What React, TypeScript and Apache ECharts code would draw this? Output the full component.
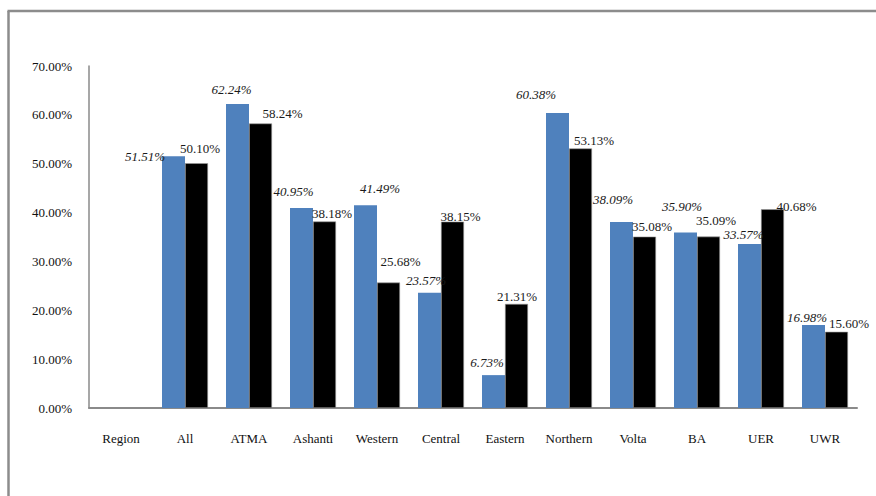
import React, { useEffect, useRef } from "react";
import * as echarts from "echarts";

// Regional shares (percent)
const regions = ["Region", "All", "ATMA", "Ashanti", "Western", "Central", "Eastern", "Northern", "Volta", "BA", "UER", "UWR"];
const seriesA: (number | null)[] = [null, 51.51, 62.24, 40.95, 41.49, 23.57, 6.73, 60.38, 38.09, 35.9, 33.57, 16.98];
const seriesB: (number | null)[] = [null, 50.1, 58.24, 38.18, 25.68, 38.15, 21.31, 53.13, 35.08, 35.09, 40.68, 15.6];
const yTicks = { min: 0, max: 70, step: 10 };

// Label nudges (px) relative to the top-centre of each bar
const shiftA: ([number, number] | null)[] = [null, [-28.5, 0], [-6, -14], [-8, -16], [14.5, -17], [-3.5, -12], [-6.5, -13], [-21.5, -19], [-8.5, -22], [-3.5, -26], [-6, -9.5], [-6.5, -8]];
const shiftB: ([number, number] | null)[] = [null, [3.5, -15], [22, -10], [7.5, -8], [12, -21], [8, -5], [0.5, -7], [13.5, -7.5], [7.5, -10.5], [7.5, -16], [24, -2.5], [12.5, -8]];

const FONT = "'Liberation Serif', 'Times New Roman', serif";
const BAR_W = 23;

function buildData(values: (number | null)[], shifts: ([number, number] | null)[], italic: boolean) {
  return values.map((v, i) => {
    if (v == null) return "-";
    const s = shifts[i] || [0, -8];
    return {
      value: v,
      label: {
        show: true,
        position: [BAR_W / 2 + s[0], s[1]],
        align: "center",
        verticalAlign: "middle",
        formatter: (p: any) => `${Number(p.value).toFixed(2)}%`,
        fontFamily: FONT,
        fontSize: 13,
        fontStyle: italic ? "italic" : "normal",
        color: "#1a1a1a",
      },
    };
  });
}

export default function App() {
  const ref = useRef<HTMLDivElement>(null);

  useEffect(() => {
    if (!ref.current) return;
    const chart = echarts.init(ref.current, null, { renderer: "svg" });
    chart.setOption({
      animation: false,
      backgroundColor: "#ffffff",
      grid: { left: 89, right: 19, top: 66, bottom: 88, containLabel: false },
      xAxis: {
        type: "category",
        data: regions,
        axisLine: { show: true, lineStyle: { color: "#8a8a8a", width: 2 } },
        axisTick: { show: false },
        axisLabel: { fontFamily: FONT, fontSize: 13, color: "#111", margin: 24 },
      },
      yAxis: {
        type: "value",
        min: yTicks.min,
        max: yTicks.max,
        interval: yTicks.step,
        splitLine: { show: false },
        axisLine: { show: true, lineStyle: { color: "#8a8a8a", width: 1.5 } },
        axisTick: { show: false },
        axisLabel: {
          fontFamily: FONT,
          fontSize: 13,
          color: "#111",
          margin: 17,
          formatter: (v: number) => `${v.toFixed(2)}%`,
        },
      },
      series: [
        {
          type: "bar",
          barWidth: BAR_W,
          barGap: "0%",
          itemStyle: { color: "#4f81bd" },
          data: buildData(seriesA, shiftA, true),
        },
        {
          type: "bar",
          barWidth: BAR_W,
          barGap: "0%",
          itemStyle: { color: "#000000", borderColor: "#9a9a9a", borderWidth: 0.6 },
          data: buildData(seriesB, shiftB, false),
        },
      ],
      graphic: [
        { type: "line", shape: { x1: 8.5, y1: 11, x2: 8.5, y2: 496 }, style: { stroke: "#8c8c8c", lineWidth: 2.5 } },
        { type: "line", shape: { x1: 7.5, y1: 11, x2: 876, y2: 11 }, style: { stroke: "#8c8c8c", lineWidth: 2.5 } },
      ],
    });
    return () => chart.dispose();
  }, []);

  return (
    <div
      ref={ref}
      style={{ position: "absolute", left: 0, top: 0, width: 876, height: 496 }}
    />
  );
}
